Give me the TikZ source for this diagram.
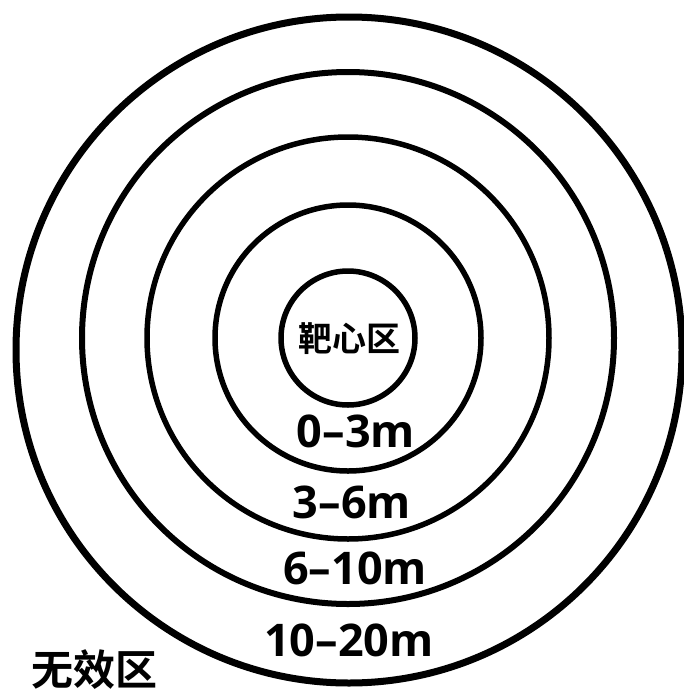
\documentclass[tikz,border=0pt]{standalone}
\usepackage{fontspec}
\newfontfamily\cjk{Noto Sans CJK SC Bold}
\newfontfamily\lat{Open Sans}[BoldFont={Open Sans Bold}]
\begin{document}
\begin{tikzpicture}[x=1pt,y=-1pt,
  ring/.style={draw=black,line width=5.5pt},
  dist/.style={inner sep=0pt,font=\fontsize{45}{45}\lat\bfseries},
  zone/.style={inner sep=0pt}]
\useasboundingbox (0,0) rectangle (684,691);
\fill[white] (0,0) rectangle (684,691);
% outer circle
\coordinate (oc) at (349,350);
\draw[draw=black,line width=7pt] (oc) circle[radius=333];
% inner rings
\coordinate (ic) at (348,338);
\draw[ring,line width=6pt] (ic) circle[radius=266];
\draw[ring] (ic) circle[radius=201];
\draw[ring] (ic) circle[radius=133];
\draw[ring] (ic) circle[radius=67];
% labels
\node[zone,font=\fontsize{34}{34}\cjk] (bull) at (349,339) {靶心区};
\node[dist] (d1) at (356,431) {0–3m};
\node[dist] (d2) at (352,502) {3–6m};
\node[dist] (d3) at (355,568) {6–10m};
\node[dist] (d4) at (349,640) {10–20m};
\node[zone,font=\fontsize{42}{42}\cjk] (miss) at (94,670) {无效区};
\end{tikzpicture}
\end{document}
